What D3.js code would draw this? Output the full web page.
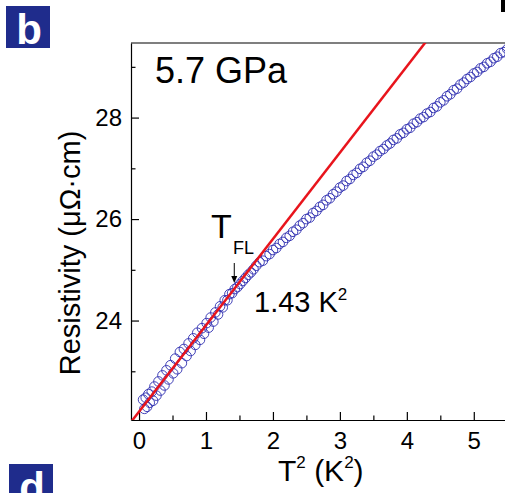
<head>
    <script src="https://d3js.org/d3.v7.min.js"></script>
    <style>
        body { margin: 0; background: white; }
        text { font-family: "Liberation Sans", Arial, sans-serif; }
        .axis .domain, .axis line { stroke: black; stroke-width: 1.2; }
    </style>
</head>

<body>
<svg id="plot" width="505" height="493"></svg>
<script>
    //data: T^2 (K^2) and resistivity (uOhm cm)
    const t2 = [0.06,0.08,0.10,0.12,0.14,0.16,0.19,0.21,0.23,0.26,0.29,0.32,0.35,0.38,0.41,0.44,0.47,0.51,0.54,0.57,
        0.61,0.64,0.67,0.71,0.74,0.77,0.81,0.84,0.87,0.91,0.94,0.97,1.01,1.04,1.07,1.11,1.14,1.18,1.21,1.25,
        1.28,1.32,1.35,1.39,1.43,1.47,1.51,1.55,1.59,1.63,1.67,1.71,
        1.75,1.80,1.85,1.90,1.95,2.00,2.05,2.10,2.15,2.20,2.25,2.30,2.35,2.40,2.45,2.50,2.55,2.60,2.65,2.70,
        2.75,2.80,2.85,2.90,2.95,3.00,3.05,3.10,3.15,3.20,3.25,3.30,3.35,3.40,3.45,3.50,3.55,3.60,3.65,3.70,
        3.75,3.80,3.85,3.90,3.95,4.00,4.05,4.10,4.15,4.20,4.25,4.30,4.35,4.40,4.45,4.50,4.55,4.60,4.65,4.70,
        4.75,4.80,4.85,4.90,4.95,5.00,5.05,5.10,5.15,5.20,5.25,5.30,5.35,5.40,5.45,5.50,5.55,5.60,5.65];
    const rho = [22.44,22.26,22.48,22.30,22.55,22.38,22.60,22.42,22.70,22.52,22.80,22.62,22.92,22.72,23.02,22.84,23.12,22.96,23.25,23.04,
        23.38,23.16,23.44,23.30,23.55,23.40,23.65,23.52,23.76,23.62,23.85,23.74,23.95,23.86,24.06,23.98,24.16,24.12,24.28,24.26,
        24.40,24.40,24.52,24.54,24.62,24.66,24.72,24.78,24.84,24.90,24.95,25.01,
        25.08,25.15,25.18,25.27,25.31,25.39,25.43,25.51,25.55,25.63,25.67,25.75,25.79,25.87,25.92,26.00,26.03,26.12,26.16,26.24,
        26.28,26.37,26.41,26.49,26.54,26.62,26.66,26.75,26.79,26.87,26.91,26.99,27.03,27.11,27.15,27.23,27.27,27.34,27.38,27.45,
        27.49,27.56,27.59,27.67,27.70,27.77,27.80,27.88,27.91,27.98,28.01,28.08,28.11,28.19,28.22,28.30,28.34,28.42,28.46,28.54,
        28.57,28.65,28.69,28.76,28.80,28.87,28.90,28.97,29.00,29.07,29.10,29.17,29.20,29.27,29.29,29.35,29.37,29.43,29.45];

    //Fermi-liquid fit line (end points)
    const fitT2 = [-0.12, 4.30];
    const fitRho = [22.00, 29.52];

    const xTicks = [0, 1, 2, 3, 4, 5];
    const xMinor = [0.5, 1.5, 2.5, 3.5, 4.5, 5.5];
    const yTicks = [24, 26, 28];
    const yMinor = [23, 25, 27, 29];
    const tFL = 1.43;

    //chart setup
    const svg = d3.select("svg#plot");
    const box = {left: 131, right: 524, top: 43, bottom: 420};

    const x = d3.scaleLinear().domain([-0.12, 5.75]).range([box.left, box.right]);
    const y = d3.scaleLinear().domain([22.04, 29.47]).range([box.bottom, box.top]);

    svg.append("defs").append("clipPath").attr("id", "clip")
        .append("rect")
        .attr("x", box.left).attr("y", box.top)
        .attr("width", box.right - box.left).attr("height", box.bottom - box.top);

    //panel labels
    svg.append("rect").attr("x", 6).attr("y", 6).attr("width", 44).attr("height", 42).attr("fill", "#1f2c8c");
    svg.append("text").attr("x", 29).attr("y", 44).attr("text-anchor", "middle")
        .attr("fill", "white").attr("font-size", 42).attr("font-weight", "bold").text("b");
    svg.append("rect").attr("x", 9).attr("y", 464).attr("width", 44).attr("height", 42).attr("fill", "#1f2c8c");
    svg.append("text").attr("x", 32).attr("y", 502).attr("text-anchor", "middle")
        .attr("fill", "white").attr("font-size", 42).attr("font-weight", "bold").text("d");
    svg.append("rect").attr("x", 501).attr("y", 0).attr("width", 4).attr("height", 12).attr("fill", "black");

    //axes
    const xAxis = svg.append("g").attr("class", "axis").attr("transform", `translate(0,${box.bottom})`)
        .call(d3.axisBottom(x).tickValues(xTicks).tickFormat(d3.format("d"))
            .tickSize(-8).tickSizeOuter(0).tickPadding(12));
    svg.append("g").attr("class", "axis").attr("transform", `translate(0,${box.bottom})`)
        .call(d3.axisBottom(x).tickValues(xMinor).tickSize(-4.5).tickFormat(""))
        .select(".domain").remove();
    xAxis.selectAll("text").attr("font-size", 24).attr("font-family", "Liberation Sans, Arial, sans-serif");

    const yAxis = svg.append("g").attr("class", "axis").attr("transform", `translate(${box.left},0)`)
        .call(d3.axisLeft(y).tickValues(yTicks).tickSize(-8).tickSizeOuter(0).tickPadding(9));
    svg.append("g").attr("class", "axis").attr("transform", `translate(${box.left},0)`)
        .call(d3.axisLeft(y).tickValues(yMinor).tickSize(-4.5).tickFormat(""))
        .select(".domain").remove();
    yAxis.selectAll("text").attr("font-size", 24).attr("font-family", "Liberation Sans, Arial, sans-serif");

    //top frame
    svg.append("line").attr("x1", box.left).attr("x2", box.right).attr("y1", box.top).attr("y2", box.top)
        .attr("stroke", "black").attr("stroke-width", 1.2);

    //axis titles
    const xTitle = svg.append("text").attr("x", 278).attr("y", 481).attr("font-size", 30);
    xTitle.append("tspan").text("T");
    xTitle.append("tspan").attr("font-size", 17).attr("dy", -13).text("2");
    xTitle.append("tspan").attr("dy", 13).text(" (K");
    xTitle.append("tspan").attr("font-size", 17).attr("dy", -13).text("2");
    xTitle.append("tspan").attr("dy", 13).text(")");

    svg.append("text")
        .attr("transform", "translate(80,253) rotate(-90)")
        .attr("text-anchor", "middle").attr("font-size", 29)
        .text("Resistivity (\u03bc\u03a9\u00b7cm)");

    //data
    const plot = svg.append("g").attr("clip-path", "url(#clip)");
    plot.selectAll("circle")
        .data(t2)
        .enter()
        .append("circle")
        .attr("cx", d => x(d))
        .attr("cy", (d, i) => y(rho[i]))
        .attr("r", 4.8)
        .attr("fill", "none")
        .attr("stroke", "#2e2eb0")
        .attr("stroke-width", 0.9);

    plot.append("line")
        .attr("x1", x(fitT2[0])).attr("y1", y(fitRho[0]))
        .attr("x2", x(fitT2[1])).attr("y2", y(fitRho[1]))
        .attr("stroke", "#e8141c").attr("stroke-width", 2.5);

    //annotations
    svg.append("text").attr("x", 155).attr("y", 83).attr("font-size", 36).text("5.7 GPa");

    const tx = x(tFL) - 0.5;
    const tfl = svg.append("text").attr("x", 211).attr("y", 238).attr("font-size", 34);
    tfl.append("tspan").text("T");
    tfl.append("tspan").attr("x", 233).attr("y", 254).attr("font-size", 18).text("FL");

    svg.append("line").attr("x1", tx).attr("x2", tx).attr("y1", 263).attr("y2", 278)
        .attr("stroke", "black").attr("stroke-width", 1);
    svg.append("path")
        .attr("d", `M${tx - 3},${276} L${tx + 3},${276} L${tx},${283} Z`)
        .attr("fill", "black");

    const note = svg.append("text").attr("x", 254).attr("y", 312).attr("font-size", 29);
    note.append("tspan").text("1.43 K");
    note.append("tspan").attr("font-size", 17).attr("dy", -12).text("2");
</script>
</body>
